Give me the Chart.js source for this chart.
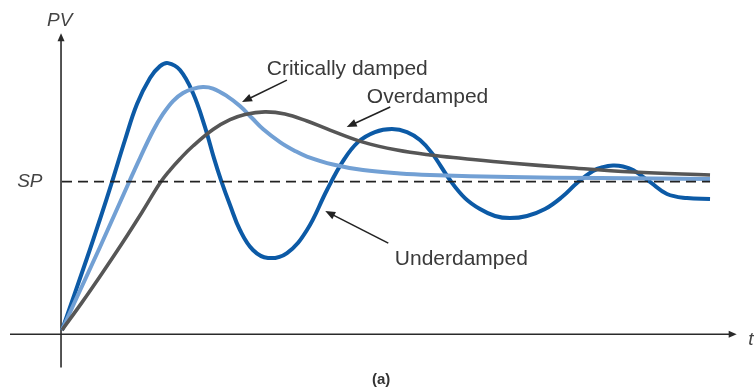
<!DOCTYPE html>
<html>
<head>
<meta charset="utf-8">
<script src="https://cdn.jsdelivr.net/npm/chart.js@4/dist/chart.umd.min.js"></script>
<style>
  html, body { margin: 0; padding: 0; background: #ffffff; }
  #wrap { width: 754px; height: 388px; }
</style>
</head>
<body>
<div id="wrap"><canvas id="c" width="754" height="388"></canvas></div>
<script>
// ---- data (t: time units, PV: % of set point) ----
const SP_VALUE = 100;

const underT  = [0, 3.85, 5.85, 7.69, 9.69, 11.54, 13.54, 15.08, 16.31, 18.15, 20.15, 22.0, 23.38, 24.46, 25.85, 27.38, 29.38, 31.69, 34.62, 37.69, 40.77, 43.23, 45.54, 48.15, 50.77, 53.08, 55.08, 56.92, 59.69, 62.0, 64.31, 66.62, 68.92, 71.54, 74.31, 76.92, 79.23, 81.69, 83.23, 84.77, 86.31, 87.85, 90.46, 93.08, 96.15, 99.7];
const underPV = [1.3, 49.2, 75.1, 99.7, 127.6, 151.5, 168.8, 176.7, 178.7, 174.1, 158.8, 136.2, 115.6, 101.0, 84.4, 67.8, 54.5, 49.2, 52.5, 67.8, 94.4, 113.6, 126.2, 132.9, 134.9, 132.9, 127.6, 118.9, 101.0, 89.0, 81.7, 77.1, 75.7, 77.1, 81.7, 89.7, 99.0, 107.0, 109.6, 110.6, 110.0, 107.6, 99.7, 91.7, 89.0, 88.4];

const critT  = [0, 2.31, 5.85, 10.46, 12.0, 14.0, 15.54, 17.08, 18.62, 20.15, 21.69, 23.23, 25.38, 27.38, 29.23, 30.92, 33.54, 35.85, 37.69, 41.69, 46.31, 52.0, 56.62, 68.92, 82.77, 99.7];
const critPV = [1.3, 23.3, 56.5, 101.0, 115.6, 133.6, 144.9, 153.5, 158.8, 161.6, 162.8, 161.8, 156.8, 150.2, 142.2, 134.9, 126.2, 120.3, 116.6, 111.3, 107.6, 105.3, 104.3, 103.0, 102.3, 101.7];

const overT  = [0, 3.08, 6.15, 9.23, 12.31, 15.08, 16.62, 18.15, 20.15, 23.23, 25.85, 28.15, 31.23, 34.31, 37.69, 41.23, 46.31, 51.54, 56.62, 61.69, 68.92, 77.69, 87.85, 99.7];
const overPV = [1.3, 19.7, 38.9, 58.8, 79.6, 99.0, 107.6, 115.0, 123.6, 134.6, 141.1, 144.6, 146.3, 144.9, 140.2, 134.2, 126.2, 120.9, 117.6, 115.3, 112.3, 109.3, 106.3, 104.3];

const spT = [0, 99.7];

const seriesNames = ['Overdamped', 'Critically damped', 'Underdamped'];
const axisLabels = { y: 'PV', x: 't', sp: 'SP', caption: '(a)' };

// ---- helpers ----
const zip = (xs, ys) => xs.map((x, i) => ({ x, y: ys[i] }));

// decorations (annotation positions in data units)
const notes = [
  { text: seriesNames[1], tx: 31.5, ty: 170.8, from: [34.6, 167.4], to: [27.7, 152.8] },
  { text: seriesNames[0], tx: 46.9, ty: 152.2, from: [50.5, 149.5], to: [43.8, 136.2] },
  { text: seriesNames[2], tx: 51.2, ty: 44.5,  from: [50.2, 59.1],  to: [40.5, 80.4] }
];

function arrow(ctx, x1, y1, x2, y2, len, half, lw, col) {
  const a = Math.atan2(y2 - y1, x2 - x1);
  ctx.save();
  ctx.strokeStyle = col; ctx.fillStyle = col; ctx.lineWidth = lw;
  ctx.beginPath();
  ctx.moveTo(x1, y1);
  ctx.lineTo(x2 - Math.cos(a) * len * 0.8, y2 - Math.sin(a) * len * 0.8);
  ctx.stroke();
  ctx.beginPath();
  ctx.moveTo(x2, y2);
  ctx.lineTo(x2 - Math.cos(a) * len + Math.sin(a) * half, y2 - Math.sin(a) * len - Math.cos(a) * half);
  ctx.lineTo(x2 - Math.cos(a) * len - Math.sin(a) * half, y2 - Math.sin(a) * len + Math.cos(a) * half);
  ctx.closePath();
  ctx.fill();
  ctx.restore();
}

const decor = {
  id: 'decor',
  beforeDatasetsDraw(chart) {
    const { ctx, scales: { x, y } } = chart;
    const ax = '#2a2a2a';
    const x0 = x.getPixelForValue(-0.15);
    const y0 = y.getPixelForValue(-1.5);
    arrow(ctx, x0, y.getPixelForValue(-23.5), x0, y.getPixelForValue(198.5), 8, 3.5, 1.6, ax);
    arrow(ctx, x.getPixelForValue(-8), y0, x.getPixelForValue(103.8), y0, 8, 3.5, 1.6, ax);
  },
  afterDatasetsDraw(chart) {
    const { ctx, scales: { x, y } } = chart;
    ctx.save();
    ctx.fillStyle = '#3a3a3a';
    ctx.textBaseline = 'alphabetic';
    ctx.font = '21px "Liberation Sans", Arial, sans-serif';
    notes.forEach(n => {
      ctx.textAlign = 'left';
      ctx.fillText(n.text, x.getPixelForValue(n.tx), y.getPixelForValue(n.ty));
      arrow(ctx, x.getPixelForValue(n.from[0]), y.getPixelForValue(n.from[1]),
                 x.getPixelForValue(n.to[0]), y.getPixelForValue(n.to[1]), 10, 4, 1.6, '#222');
    });
    ctx.font = 'italic 19px "Liberation Sans", Arial, sans-serif';
    ctx.fillStyle = '#444';
    ctx.textAlign = 'left';
    ctx.fillText(axisLabels.y, x.getPixelForValue(-2.3), y.getPixelForValue(203.3));
    ctx.fillText(axisLabels.sp, x.getPixelForValue(-6.9), y.getPixelForValue(96.3));
    ctx.fillText(axisLabels.x, x.getPixelForValue(105.6), y.getPixelForValue(-8.6));
    ctx.font = 'bold 15px "Liberation Sans", Arial, sans-serif';
    ctx.fillStyle = '#333';
    ctx.textAlign = 'center';
    ctx.fillText(axisLabels.caption, x.getPixelForValue(49.1), y.getPixelForValue(-34.8));
    ctx.restore();
  }
};

new Chart(document.getElementById('c'), {
  type: 'line',
  data: {
    datasets: [
      { label: 'SP', data: zip(spT, spT.map(() => SP_VALUE)), borderColor: '#222', borderWidth: 1.8,
        borderDash: [10, 6], pointRadius: 0, tension: 0 },
      { label: seriesNames[0], data: zip(overT, overPV), borderColor: '#565656', borderWidth: 3.6,
        pointRadius: 0, tension: 0.4 },
      { label: seriesNames[1], data: zip(critT, critPV), borderColor: '#72a0d4', borderWidth: 4,
        pointRadius: 0, tension: 0.4 },
      { label: seriesNames[2], data: zip(underT, underPV), borderColor: '#0c5aa6', borderWidth: 4,
        pointRadius: 0, tension: 0.4 }
    ]
  },
  options: {
    responsive: false,
    animation: false,
    events: [],
    layout: { padding: { left: 10, right: 17, top: 33, bottom: 20 } },
    plugins: { legend: { display: false }, tooltip: { enabled: false } },
    scales: {
      x: { type: 'linear', min: -8, max: 103.85, display: false },
      y: { type: 'linear', min: -23.9, max: 198.7, display: false }
    }
  },
  plugins: [decor]
});
</script>
</body>
</html>
